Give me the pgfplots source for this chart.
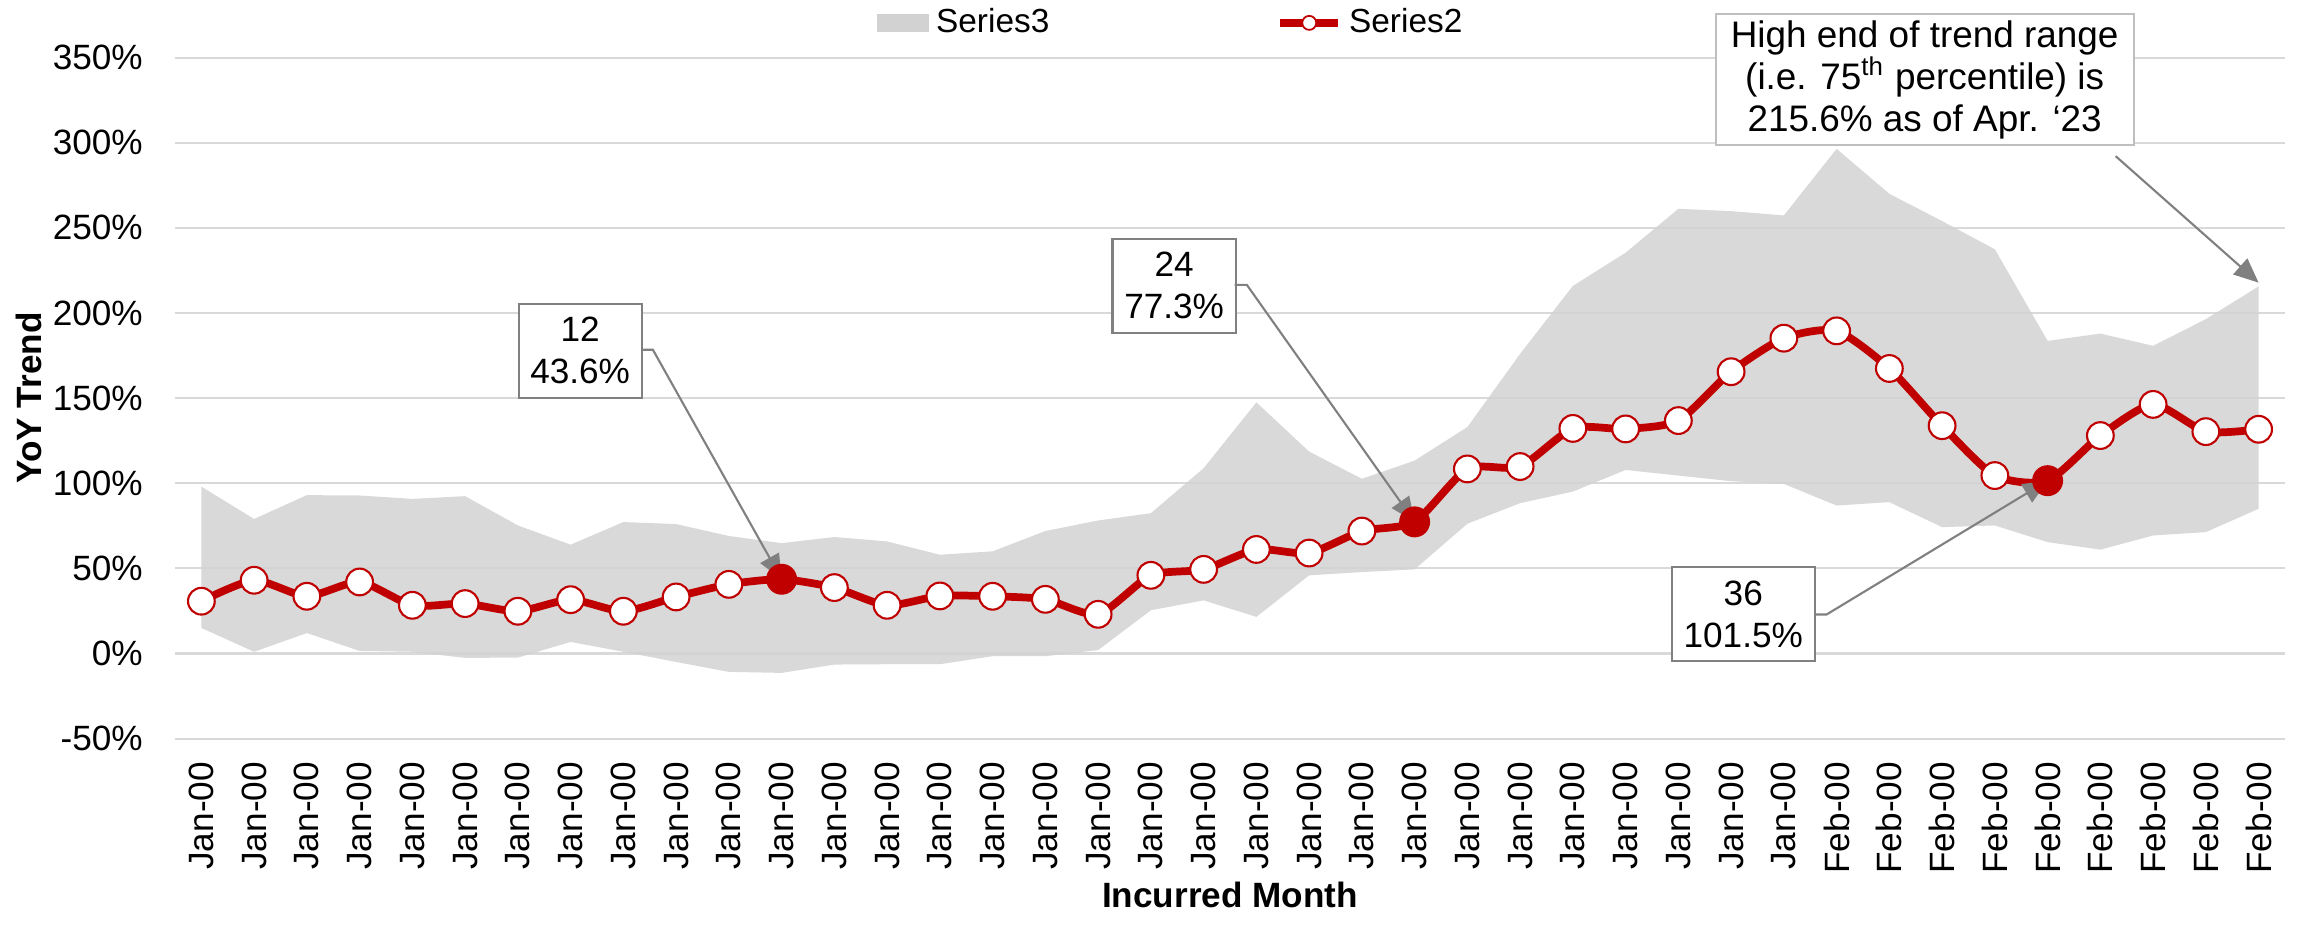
\documentclass[border=0pt]{standalone}
\usepackage{fontspec}
\setmainfont{Liberation Sans}
\usepackage{pgfplots}
\usepackage{pgfplotstable}
\pgfplotsset{compat=1.18}
\usepgfplotslibrary{fillbetween}
\usetikzlibrary{arrows.meta}
\definecolor{trendred}{RGB}{192,0,0}
\definecolor{bandgray}{RGB}{210,210,210}
\definecolor{gridgray}{RGB}{217,217,217}
\definecolor{calloutgray}{RGB}{128,128,128}
\definecolor{notegray}{RGB}{191,191,191}

% i = month index, lo/hi = trend range band (Series3), s2 = YoY trend (Series2)
\pgfplotstableread{
i lo hi s2
0 15 98 30.7
1 1 79 43
2 12 93 33.6
3 1.5 92.8 42
4 1 90.8 28.3
5 -2.6 92.4 29.3
6 -2.4 75.2 24.8
7 6.8 63.9 31.6
8 1 77.2 24.8
9 -5 76 33.2
10 -10.8 69 40.6
11 -11.4 64.8 43.6
12 -6.5 68.4 38.7
13 -6.3 65.8 28.3
14 -6.3 58 33.8
15 -1.6 60 33.6
16 -1.6 71.9 31.8
17 2 78.1 23
18 25.4 82.4 45.9
19 31.2 108.8 49.4
20 21.5 147.5 61.1
21 45.9 118.6 59
22 47.8 102.6 71.9
23 49.4 113.3 77.3
24 76.2 133 108.4
25 88.3 176 109.8
26 95.1 215.9 132.2
27 107.8 235.4 131.9
28 104.5 261.2 136.8
29 101.2 259.8 165.5
30 99.6 257.3 185.2
31 86.9 296.4 189.5
32 88.9 270 167.4
33 74.2 254 133.8
34 75.2 237.4 104.5
35 65.4 183.6 101.5
36 61 187.9 128
37 69.3 180.7 146.3
38 71.3 196.4 130.3
39 85 215.6 131.7
}\trenddata

\begin{document}
\begin{tikzpicture}
\begin{axis}[
  scale only axis,
  width=21.1cm,
  height=6.81cm,
  clip=false,
  xmin=-0.5, xmax=39.5,
  ymin=-50, ymax=350,
  xtick={0,...,39},
  xticklabels={Jan-00,Jan-00,Jan-00,Jan-00,Jan-00,Jan-00,Jan-00,Jan-00,Jan-00,Jan-00,
    Jan-00,Jan-00,Jan-00,Jan-00,Jan-00,Jan-00,Jan-00,Jan-00,Jan-00,Jan-00,
    Jan-00,Jan-00,Jan-00,Jan-00,Jan-00,Jan-00,Jan-00,Jan-00,Jan-00,Jan-00,
    Jan-00,Feb-00,Feb-00,Feb-00,Feb-00,Feb-00,Feb-00,Feb-00,Feb-00,Feb-00},
  ytick={-50,0,50,100,150,200,250,300,350},
  yticklabels={-50\%,0\%,50\%,100\%,150\%,200\%,250\%,300\%,350\%},
  axis line style={draw=none},
  major tick length=0pt,
  ymajorgrids,
  grid style={gridgray, line width=0.6pt},
  tick label style={font=\fontsize{10}{12}\selectfont},
  xticklabel style={rotate=90, anchor=east, inner xsep=6.5pt},
  yticklabel style={anchor=east, inner xsep=9pt},
  xlabel={Incurred Month},
  ylabel={YoY Trend},
  label style={font=\fontsize{10}{12}\selectfont\bfseries},
  xlabel style={at={(axis description cs:0.5,-0.21)}, anchor=north, inner sep=0pt},
  ylabel style={at={(axis description cs:-0.0692,0.5)}, anchor=center, inner sep=0pt},
  legend style={at={(axis description cs:0.473,1.051)}, anchor=center,
    draw=none, fill=none, legend columns=2,
    font=\fontsize{9.5}{11}\selectfont,
    /tikz/every even column/.append style={column sep=2.2cm}},
]
\addlegendimage{legend image code/.code={\fill[bandgray] (0cm,-0.08cm) rectangle (0.51cm,0.08cm);}}
\addlegendentry{Series3}
\addlegendimage{legend image code/.code={%
  \draw[trendred, line width=2.2pt] (0cm,0cm) -- (0.58cm,0cm);
  \draw[trendred, fill=white, line width=0.5pt] (0.29cm,0cm) circle[radius=0.07cm];}}
\addlegendentry{Series2}

\addplot[name path=hi, draw=none, forget plot] table[x=i, y=hi] {\trenddata};
\addplot[name path=lo, draw=none, forget plot] table[x=i, y=lo] {\trenddata};
\addplot[bandgray, fill opacity=0.85, draw=none, forget plot] fill between[of=hi and lo];

\addplot[trendred, line width=2.2pt, smooth, tension=0.4, mark=*, mark size=3.8pt,
  mark options={fill=white, draw=trendred, line width=0.6pt}, forget plot]
  table[x=i, y=s2] {\trenddata};
\addplot[only marks, mark=*, mark size=4.2pt,
  mark options={fill=trendred, draw=trendred}, forget plot]
  coordinates {(11,43.6) (23,77.3) (35,101.5)};

% callouts
\begin{scope}[every node/.style={draw=calloutgray, fill=white, align=center,
    line width=0.6pt, font=\fontsize{10}{12}\selectfont, minimum height=0.94cm}]
\node[minimum width=1.22cm] at (axis cs:7.18,177.8) {12\\43.6\%};
\node[minimum width=1.22cm] at (axis cs:18.44,216.1) {24\\77.3\%};
\node[minimum width=1.43cm] at (axis cs:29.23,23.0) {36\\101.5\%};
\end{scope}
\draw[calloutgray, line width=0.6pt, -{Triangle[length=7pt,width=6pt]}]
  (axis cs:8.34,178.4) -- (axis cs:8.56,178.4) -- (axis cs:11,43.6);
\draw[calloutgray, line width=0.6pt, -{Triangle[length=7pt,width=6pt]}]
  (axis cs:19.59,216.5) -- (axis cs:19.82,216.5) -- (axis cs:23,77.3);
\draw[calloutgray, line width=0.6pt, -{Triangle[length=7pt,width=6pt]}]
  (axis cs:30.58,22.9) -- (axis cs:30.81,22.9) -- (axis cs:35,101.5);

\node[draw=notegray, fill=white, align=center, line width=0.6pt,
  font=\fontsize{10.5}{12}\selectfont, inner xsep=0.15cm, inner ysep=0.06cm]
  at (axis cs:32.67,337.0)
  {High end of trend range\\(i.e. 75\textsuperscript{th} percentile) is\\215.6\% as of Apr. ‘23};
\draw[calloutgray, line width=0.6pt, -{Triangle[length=7pt,width=6pt]}]
  (axis cs:36.29,292.1) -- (axis cs:39.0,217.8);
\end{axis}
\pgfresetboundingbox
\path (-1.75,-1.874) rectangle (21.25,7.386);
\end{tikzpicture}
\end{document}
